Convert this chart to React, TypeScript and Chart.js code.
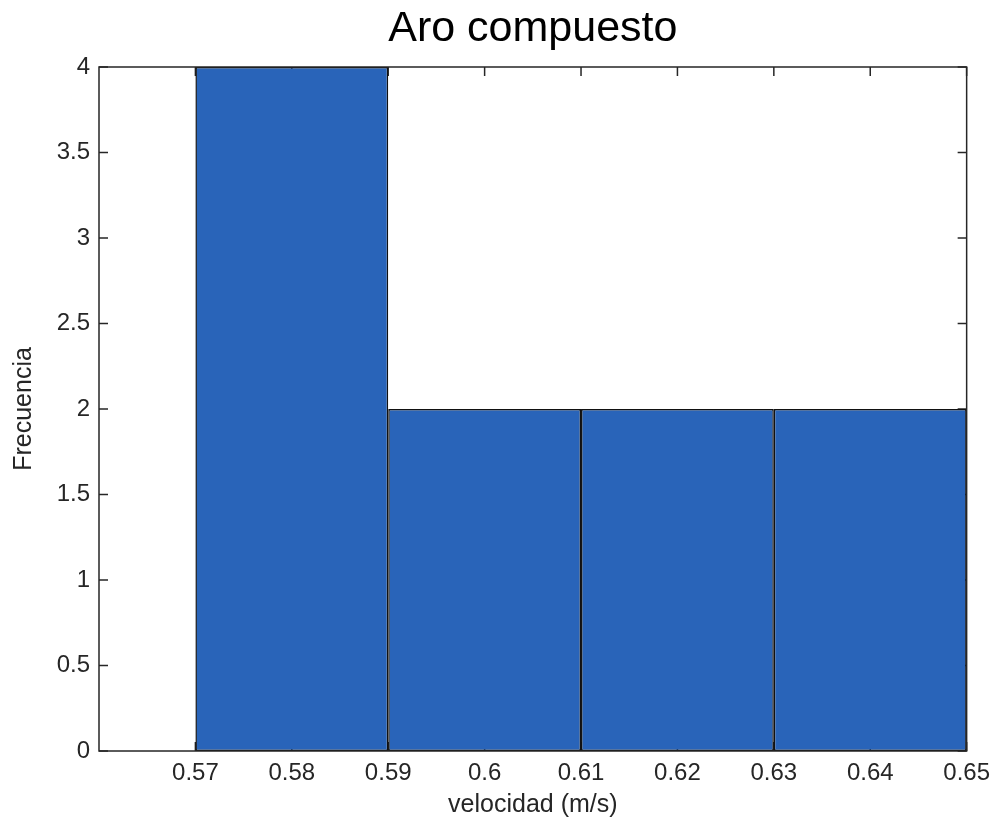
import React, { useEffect, useRef } from "react";
import { Chart, registerables } from "chart.js";

Chart.register(...registerables);

const titleText = "Aro compuesto";
const xLabel = "velocidad (m/s)";
const yLabel = "Frecuencia";
const binEdges = [0.57, 0.59, 0.61, 0.63, 0.65];
const counts = [4, 2, 2, 2];
const xTickValues = [0.57, 0.58, 0.59, 0.6, 0.61, 0.62, 0.63, 0.64, 0.65];
const xMin = 0.56;
const xMax = 0.65;
const yMin = 0;
const yMax = 4;
const yStep = 0.5;

const FONT = "'Liberation Sans', Arial, Helvetica, sans-serif";
const AXIS_COLOR = "#262626";

// MATLAB-style axes: inward ticks drawn under the bars, box drawn on top
const matlabAxes = {
  id: "matlabAxes",
  beforeDatasetsDraw(chart: any) {
    const { ctx, chartArea, scales } = chart;
    const { left, right, top, bottom } = chartArea;
    const xs = scales.x;
    const ys = scales.y;
    const len = 9;
    ctx.save();
    ctx.strokeStyle = AXIS_COLOR;
    ctx.lineWidth = 1.5;
    ctx.beginPath();
    xs.ticks.forEach((t: any) => {
      const px = xs.getPixelForValue(t.value);
      ctx.moveTo(px, bottom);
      ctx.lineTo(px, bottom - len);
      ctx.moveTo(px, top);
      ctx.lineTo(px, top + len);
    });
    ys.ticks.forEach((t: any) => {
      const py = ys.getPixelForValue(t.value);
      ctx.moveTo(left, py);
      ctx.lineTo(left + len, py);
      ctx.moveTo(right, py);
      ctx.lineTo(right - len, py);
    });
    ctx.stroke();
    ctx.restore();
  },
  afterDatasetsDraw(chart: any) {
    const { ctx, chartArea } = chart;
    const { left, right, top, bottom } = chartArea;
    ctx.save();
    ctx.strokeStyle = AXIS_COLOR;
    ctx.lineWidth = 1.5;
    ctx.strokeRect(left, top, right - left, bottom - top);
    ctx.restore();
  },
};

export default function App() {
  const ref = useRef<HTMLCanvasElement | null>(null);

  useEffect(() => {
    document.body.style.margin = "0";
    const canvas = ref.current;
    if (!canvas) return;
    const centers = counts.map((_, i) => (binEdges[i] + binEdges[i + 1]) / 2);
    // ticks are every 0.01 while bins are 0.02 wide: the bar ruler uses the tick spacing
    const binToTickRatio = (binEdges[1] - binEdges[0]) / (xTickValues[1] - xTickValues[0]);
    const chart = new Chart(canvas, {
      type: "bar",
      data: {
        datasets: [
          {
            data: centers.map((c, i) => ({ x: c, y: counts[i] })),
            backgroundColor: "#2964B9",
            borderColor: "#111111",
            borderWidth: 1.5,
            borderSkipped: false,
            barPercentage: binToTickRatio,
            categoryPercentage: 1,
          } as any,
        ],
      },
      plugins: [matlabAxes],
      options: {
        animation: false,
        responsive: false,
        layout: { padding: { left: 0, right: 31, top: 0, bottom: 0 } },
        plugins: {
          legend: { display: false },
          tooltip: { enabled: false },
          title: {
            display: true,
            fullSize: false,
            text: titleText,
            color: "#000",
            font: { family: FONT, size: 43, weight: "normal" },
            padding: { top: 3, bottom: 12.4 },
          },
        },
        scales: {
          x: {
            type: "linear",
            min: xMin,
            max: xMax,
            offset: false,
            grid: { display: false, drawTicks: false },
            border: { display: false },
            afterBuildTicks: (scale: any) => {
              scale.ticks = xTickValues.map((v) => ({ value: v }));
            },
            afterFit: (scale: any) => {
              scale.height = 73;
            },
            ticks: {
              autoSkip: false,
              maxRotation: 0,
              padding: 8,
              color: AXIS_COLOR,
              font: { family: FONT, size: 24 },
              callback: (v: any) => String(Math.round(Number(v) * 100) / 100),
            },
            title: {
              display: true,
              text: xLabel,
              color: AXIS_COLOR,
              font: { family: FONT, size: 25 },
              padding: { top: 0, bottom: 4 },
            },
          },
          y: {
            min: yMin,
            max: yMax,
            grid: { display: false, drawTicks: false },
            border: { display: false },
            afterFit: (scale: any) => {
              scale.width = 99;
            },
            ticks: {
              stepSize: yStep,
              padding: 9,
              color: AXIS_COLOR,
              font: { family: FONT, size: 24 },
              callback: (v: any) => String(Math.round(Number(v) * 10) / 10),
            },
            title: {
              display: true,
              text: yLabel,
              color: AXIS_COLOR,
              font: { family: FONT, size: 25 },
              padding: { top: 9, bottom: 0 },
            },
          },
        },
      } as any,
    });
    return () => chart.destroy();
  }, []);

  return (
    <div style={{ width: 998, height: 824, background: "#fff" }}>
      <canvas ref={ref} width={998} height={824} />
    </div>
  );
}
